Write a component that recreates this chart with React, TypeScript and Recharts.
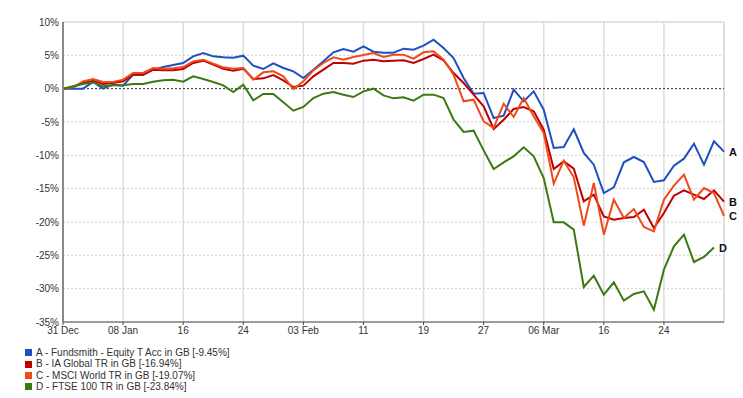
import { LineChart, Line, XAxis, YAxis, CartesianGrid, Legend, ReferenceLine } from 'recharts';

// one point per weekday, 31 Dec .. 01 Apr
const tickIdx = [0, 6, 12, 18, 24, 30, 36, 42, 48, 54, 60];
const tickLabels = ['31 Dec', '08 Jan', '16', '24', '03 Feb', '11', '19', '27', '06 Mar', '16', '24'];
const yTicks = [-35, -30, -25, -20, -15, -10, -5, 0, 5, 10];

const fundsmith = [
  0, 0, 0, 1.0, 0, 0.6, 0.45, 2.1, 2.1, 2.85, 3.25, 3.55, 3.85, 4.85, 5.35, 4.85, 4.7, 4.65, 4.95, 3.45,
  2.95, 3.8, 3.1, 2.6, 1.6, 2.85, 4.1, 5.45, 5.95, 5.55, 6.35, 5.55, 5.4, 5.4, 6.0, 5.85, 6.45, 7.35, 6.1, 4.6,
  1.6, -0.75, -0.65, -4.4, -4.05, -0.15, -1.9, -0.4, -3.15, -8.9, -8.75, -6.1, -9.65, -11.4, -15.65, -14.8, -11.05, -10.25, -11.0, -14.0,
  -13.75, -11.55, -10.5, -8.25, -11.4, -7.9, -9.45,
];
const iaGlobal = [
  0, 0.25, 0.85, 1.2, 0.7, 0.85, 1.1, 2.1, 2.1, 2.85, 2.75, 2.75, 2.95, 3.85, 4.2, 3.6, 3.0, 2.7, 3.0, 1.45,
  1.55, 2.05, 1.25, 0.25, 0.45, 1.85, 2.85, 3.85, 3.85, 3.75, 4.2, 4.35, 4.1, 4.2, 4.25, 3.85, 4.45, 5.1, 4.25, 2.35,
  0.85, -0.9, -2.65, -6.05, -4.65, -3.05, -2.75, -3.4, -6.15, -12.05, -10.9, -12.0, -16.9, -15.9, -19.15, -19.65, -19.4, -19.25, -18.15, -20.9,
  -18.65, -16.05, -15.25, -15.9, -16.55, -15.25, -16.94,
];
const msciWorld = [
  0, 0.25, 1.1, 1.45, 1.0, 1.0, 1.35, 2.35, 2.35, 3.1, 3.0, 3.05, 3.25, 4.1, 4.35, 3.75, 3.2, 3.0, 3.1, 1.35,
  2.45, 2.6, 1.85, -0.05, 1.1, 2.75, 3.85, 4.7, 4.35, 4.75, 5.05, 5.35, 4.75, 5.1, 5.1, 4.5, 5.45, 5.6, 4.35, 2.1,
  -1.9, -1.65, -4.9, -5.9, -2.25, -4.25, -1.4, -4.15, -6.65, -14.25, -10.8, -13.3, -20.55, -14.15, -21.9, -16.65, -19.4, -18.05, -20.75, -21.4,
  -16.65, -14.55, -12.9, -16.65, -14.9, -15.65, -19.07,
];
const ftse100 = [
  0, 0.35, 0.7, 0.95, 0.35, 0.5, 0.5, 0.7, 0.7, 1.05, 1.25, 1.35, 1.05, 1.85, 1.45, 1.0, 0.5, -0.5, 0.6, -1.75,
  -0.8, -0.8, -2.05, -3.3, -2.75, -1.4, -0.75, -0.5, -0.9, -1.25, -0.4, 0, -1.0, -1.45, -1.3, -1.8, -0.9, -0.9, -1.4, -4.65,
  -6.5, -6.3, -9.25, -12.05, -11.05, -10.15, -8.8, -10.15, -13.4, -20.05, -20.05, -21.15, -29.75, -28.05, -30.9, -29.05, -31.8, -30.8, -30.4, -33.15,
  -27.15, -23.65, -21.9, -26.0, -25.25, -23.84, null,
];

const series = [
  { key: 'a', tag: 'A', name: 'A - Fundsmith - Equity T Acc in GB [-9.45%]', color: '#1f4fc0', values: fundsmith },
  { key: 'b', tag: 'B', name: 'B - IA Global TR in GB [-16.94%]', color: '#c00000', values: iaGlobal },
  { key: 'c', tag: 'C', name: 'C - MSCI World TR in GB [-19.07%]', color: '#ee4a1c', values: msciWorld },
  { key: 'd', tag: 'D', name: 'D - FTSE 100 TR in GB [-23.84%]', color: '#3b7a12', values: ftse100 },
];

const data = fundsmith.map((_, i) => {
  const row: Record<string, number | null> = { i };
  series.forEach((s) => { row[s.key] = s.values[i]; });
  return row;
});

const font = '"Liberation Sans", Arial, sans-serif';

function endTag(tag: string, values: (number | null)[]) {
  let last = values.length - 1;
  while (values[last] === null) last--;
  return (props: any) => {
    if (props.index !== last) return <g key={props.index} />;
    return (
      <text key={props.index} x={props.cx + 5} y={props.cy + 4} fontSize={11} fontWeight="bold" fill="#111" fontFamily={font}>
        {tag}
      </text>
    );
  };
}

function LegendBox() {
  return (
    <div style={{ fontFamily: font, fontSize: 10, color: '#333', lineHeight: '11.4px' }}>
      {series.map((s) => (
        <div key={s.key} style={{ display: 'flex', alignItems: 'center', whiteSpace: 'nowrap' }}>
          <span style={{ width: 7, height: 7, background: s.color, display: 'inline-block', marginRight: 4 }} />
          {s.name}
        </div>
      ))}
    </div>
  );
}

export default function App() {
  return (
    <div style={{ position: 'absolute', left: 0, top: 0, width: 743, height: 398, background: '#fff' }}>
      <LineChart width={743} height={398} data={data} margin={{ top: 22, right: 19, left: 0, bottom: 46 }}>
        <CartesianGrid horizontal={false} stroke="#dcdcdc" strokeWidth={1.5} />
        <CartesianGrid vertical={false} stroke="#d0d0d0" strokeDasharray="2 2" />
        <XAxis
          dataKey="i"
          type="number"
          domain={[0, 66]}
          ticks={tickIdx}
          tickFormatter={(v: number) => tickLabels[tickIdx.indexOf(v)]}
          tick={{ fontSize: 10, fill: '#333', fontFamily: font }}
          tickSize={3}
          tickMargin={2}
          stroke="#444"
          height={30}
        />
        <YAxis
          domain={[-35, 10]}
          ticks={yTicks}
          tickFormatter={(v: number) => `${v}%`}
          tick={{ fontSize: 10, fill: '#333', fontFamily: font }}
          tickLine={false}
          tickSize={2}
          tickMargin={2}
          axisLine={{ stroke: '#888', strokeWidth: 2 }}
          width={63}
          interval={0}
        />
        <ReferenceLine y={10} stroke="#dcdcdc" strokeWidth={1.5} />
        <ReferenceLine x={66} stroke="#dcdcdc" strokeWidth={1.5} />
        <ReferenceLine y={0} stroke="#333" strokeDasharray="2 2" />
        <Legend
          layout="horizontal"
          verticalAlign="middle"
          align="center"
          content={() => <LegendBox />}
          wrapperStyle={{ left: 25, top: 347, width: 300, height: 48 }}
        />
        {series.map((s) => (
          <Line
            key={s.key}
            dataKey={s.key}
            name={s.name}
            type="linear"
            stroke={s.color}
            strokeWidth={2}
            dot={endTag(s.tag, s.values)}
            activeDot={false}
            isAnimationActive={false}
          />
        ))}
      </LineChart>
    </div>
  );
}
